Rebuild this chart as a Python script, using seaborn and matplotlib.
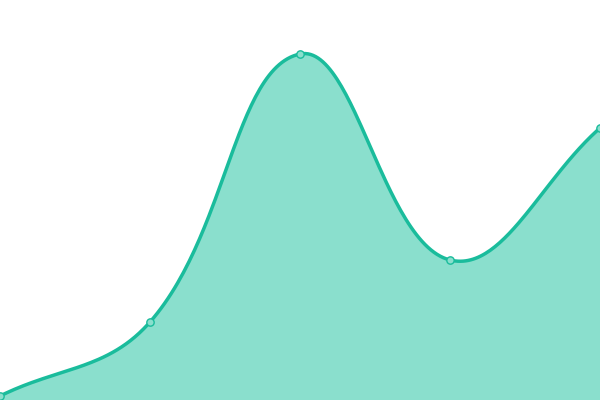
import numpy as np
import pandas as pd
import matplotlib
matplotlib.use('Agg')
import matplotlib.pyplot as plt
import seaborn as sns

# data
categories = [0, 1, 2, 3, 4]
values = [4, 78, 346, 140, 272]

line_color = '#1abc9c'
fill_color = '#8adfcd'

# pixels per unit, so the smoothing works in screen space
X_SCALE = 150.0
Y_SCALE = 1.0


def spline_curve(xs, ys, tension=0.4, n=60):
    # bezier smoothing with distance-weighted control points
    px = np.asarray(xs, float) * X_SCALE
    py = np.asarray(ys, float) * Y_SCALE
    k = len(px)
    cps = []
    for i in range(k):
        pi, ni = max(i - 1, 0), min(i + 1, k - 1)
        d01 = np.hypot(px[i] - px[pi], py[i] - py[pi])
        d12 = np.hypot(px[ni] - px[i], py[ni] - py[i])
        tot = d01 + d12
        s01 = d01 / tot if tot else 0
        s12 = d12 / tot if tot else 0
        fa, fb = tension * s01, tension * s12
        dx, dy = px[ni] - px[pi], py[ni] - py[pi]
        cps.append(((px[i] - fa * dx, py[i] - fa * dy), (px[i] + fb * dx, py[i] + fb * dy)))
    out_x, out_y = [], []
    for i in range(k - 1):
        t = np.linspace(0, 1, n, endpoint=(i == k - 2))
        p0 = np.array([px[i], py[i]])
        p1 = np.array(cps[i][1])
        p2 = np.array(cps[i + 1][0])
        p3 = np.array([px[i + 1], py[i + 1]])
        b = ((1 - t)**3)[:, None] * p0 + (3 * (1 - t)**2 * t)[:, None] * p1 \
            + (3 * (1 - t) * t**2)[:, None] * p2 + (t**3)[:, None] * p3
        out_x.append(b[:, 0] / X_SCALE)
        out_y.append(b[:, 1] / Y_SCALE)
    return np.concatenate(out_x), np.concatenate(out_y)


cx, cy = spline_curve(categories, values)
curve = pd.DataFrame({'x': cx, 'y': cy})
points = pd.DataFrame({'x': categories, 'y': values})

fig = plt.figure(figsize=(6, 4), dpi=100)
ax = fig.add_axes([0, 0, 1, 1])

ax.fill_between(cx, cy, 0, color=fill_color, linewidth=0)
sns.lineplot(data=curve, x='x', y='y', ax=ax, color=line_color, linewidth=2.5, sort=False)
sns.scatterplot(data=points, x='x', y='y', ax=ax, s=28, color=fill_color,
                edgecolor=line_color, linewidth=1, zorder=5, clip_on=False)

ax.set_xlim(0, 4)
ax.set_ylim(0, 400)
ax.axis('off')

fig.savefig('out.png', dpi=100)
